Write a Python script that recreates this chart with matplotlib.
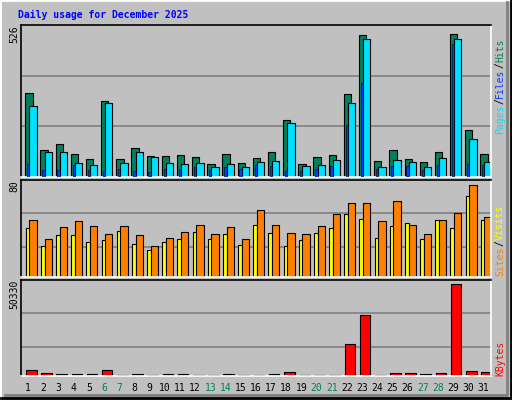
import matplotlib
matplotlib.use("Agg")
import matplotlib.pyplot as plt
import numpy as np

days = list(range(1, 32))
weekend = [6, 7, 13, 14, 20, 21, 27, 28]
hits = [300, 95, 116, 81, 64, 272, 64, 102, 76, 74, 77, 71, 46, 81, 50, 67, 88, 202, 46, 71, 77, 294, 507, 57, 95, 64, 53, 88, 511, 168, 81]
files = [254, 88, 88, 50, 43, 262, 50, 88, 71, 50, 46, 50, 36, 46, 36, 53, 57, 192, 39, 43, 60, 262, 491, 36, 60, 53, 36, 67, 491, 136, 53]
pages = [46, 25, 25, 44, 25, 22, 29, 22, 18, 29, 29, 36, 25, 36, 29, 43, 39, 22, 22, 29, 39, 185, 334, 29, 39, 39, 25, 43, 473, 46, 43]
sites = [40, 25, 34, 34, 29, 30, 38, 27, 22, 29, 31, 36.5, 31, 35, 26.5, 43, 36, 25, 30, 36, 40, 52, 48, 32, 41.5, 44, 31, 47, 40, 67, 46.5]
visits = [46.5, 31, 41, 46, 42, 35, 41.5, 34, 25, 32, 36.5, 43, 35, 41, 31, 55, 43, 36, 35, 42, 52, 61, 61, 46, 63, 43, 35, 47, 53, 76, 49]
kbytes = [3318, 1660, 1100, 1100, 1100, 3318, 550, 1100, 550, 1100, 1100, 550, 550, 1100, 550, 550, 1100, 2200, 550, 550, 550, 17700, 33180, 550, 1660, 1660, 1100, 1660, 50330, 2765, 2200]
max_labels = ["526", "80", "50330"]

BG = "#C0C0C0"
W, H = 512, 400
fig = plt.figure(figsize=(W/100, H/100), dpi=100, facecolor=BG)
mono = "DejaVu Sans Mono"

def ax_at(top, bottom):
    l, r = 20.7, 491
    return fig.add_axes([l/W, 1-bottom/H, (r-l)/W, (bottom-top)/H], facecolor=BG)

idx = np.arange(31)
def style(ax, grid, ymax):
    ax.set_xlim(0, 31)
    ax.set_ylim(0, ymax)
    for g in grid:
        ax.axhline(g*ymax, color="#808080", lw=1.2, zorder=0)
    ax.set_xticks([]); ax.set_yticks([])
    for s in ["left", "top"]:
        ax.spines[s].set_color("black")
    for s in ["right", "bottom"]:
        ax.spines[s].set_color("white")
    for s in ax.spines.values():
        s.set_linewidth(1.2)

ec = dict(edgecolor="black", linewidth=0.8, align="edge")
# top panel
ax1 = ax_at(25, 177)
m1 = 526 * 455/442
style(ax1, [1/3, 2/3], m1)
ax1.bar(idx+0.30, hits, 0.48, color="#00805C", **ec)
ax1.bar(idx+0.57, files, 0.48, color="#00E0FF", **ec)
ax1.bar(idx+0.42, pages, 0.15, color="#0040FF", edgecolor="black", linewidth=0.4, align="edge", zorder=3)

# middle panel
ax2 = ax_at(180, 276.5)
m2 = 80
style(ax2, [0.31, 0.654], m2)
ax2.bar(idx+0.33, sites, 0.27, color="#FFFF00", **ec)
ax2.bar(idx+0.57, visits, 0.48, color="#FF8000", **ec)

# bottom panel
ax3 = ax_at(280, 376)
m3 = 50330 * 285/273
style(ax3, [0.305, 0.653], m3)
ax3.bar(idx+0.35, kbytes, 0.70, color="#FF0000", **ec)

for d in days:
    fig.text((20.7 + (d-0.5)*(491-20.7)/31)/W, 1-388/H, str(d), ha="center", va="center",
             fontsize=7, family=mono, color="#00805C" if d in weekend else "black")

for lab, y in zip(max_labels, [25, 180, 280]):
    fig.text(14/W, 1-y/H, lab, rotation=90, ha="center", va="top", fontsize=7, family=mono)

fig.text(18/W, 1-15/H, "Daily usage for December 2025", ha="left", va="center",
         fontsize=7, family=mono, weight="bold", color="#0000FF")

def right_label(parts, ybottom):
    y = ybottom
    for txt, col in parts:
        t = fig.text(500/W, 1-y/H, txt, rotation=90, ha="center", va="bottom",
                     fontsize=7, family=mono, color=col)
        y -= len(txt) * 6.0

right_label([("Pages", "#00E0FF"), ("/", "black"), ("Files", "#0040FF"), ("/", "black"), ("Hits", "#00805C")], 134)
right_label([("Sites", "#FF8000"), ("/", "black"), ("Visits", "#FFFF00")], 276)
right_label([("KBytes", "#FF0000")], 376)

# outer 3D frame
from matplotlib.lines import Line2D
fig.add_artist(Line2D([0, 0, 1], [0, 1, 1], transform=fig.transFigure, color="white", lw=2))
fig.add_artist(Line2D([0.002, 0.998, 0.998], [0.004, 0.004, 1], transform=fig.transFigure, color="black", lw=2))
fig.add_artist(Line2D([0.01, 0.99, 0.99], [0.012, 0.012, 0.995], transform=fig.transFigure, color="#808080", lw=2))

fig.savefig("out.png", dpi=100, facecolor=BG)
